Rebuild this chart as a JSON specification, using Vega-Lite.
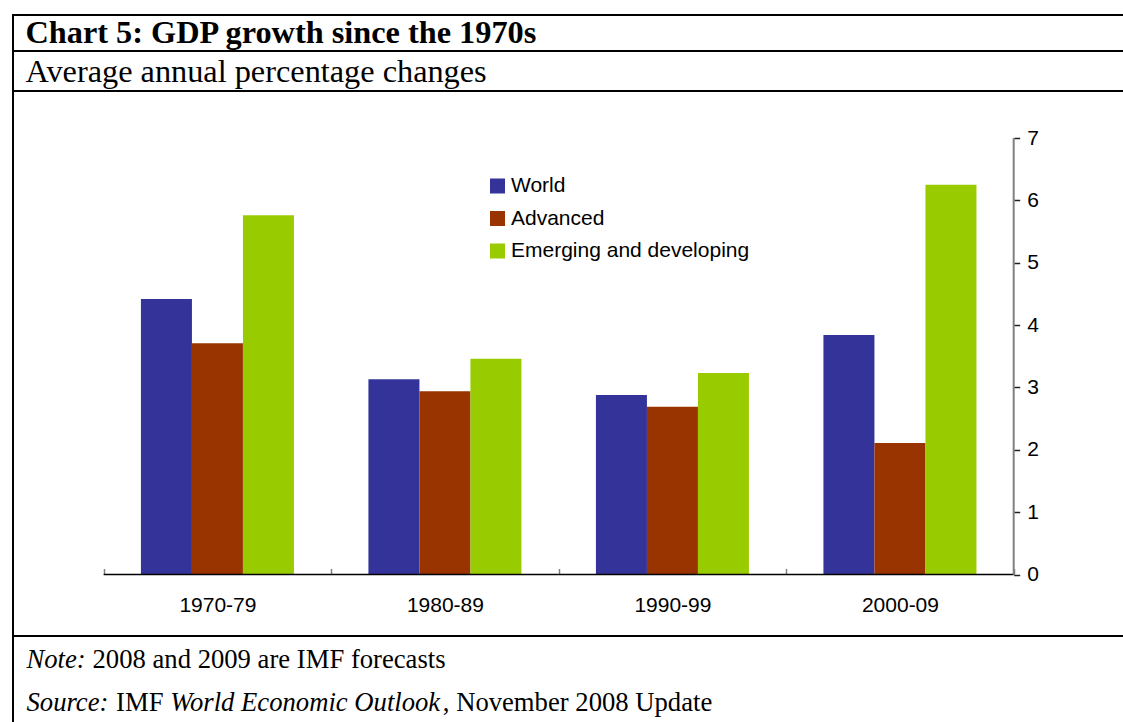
{
  "$schema": "https://vega.github.io/schema/vega-lite/v6.json",
  "padding": {"left": 12, "top": 14, "right": -30, "bottom": -15},
  "background": "white",
  "spacing": 0,
  "bounds": "flush",
  "config": {
    "view": {"stroke": "#000", "strokeWidth": 2},
    "concat": {"spacing": 0}
  },
  "datasets": {
    "gdp": [
      {"period": "1970-79", "series": "World", "value": 4.42},
      {"period": "1970-79", "series": "Advanced", "value": 3.71},
      {"period": "1970-79", "series": "Emerging and developing", "value": 5.76},
      {"period": "1980-89", "series": "World", "value": 3.13},
      {"period": "1980-89", "series": "Advanced", "value": 2.94},
      {"period": "1980-89", "series": "Emerging and developing", "value": 3.46},
      {"period": "1990-99", "series": "World", "value": 2.88},
      {"period": "1990-99", "series": "Advanced", "value": 2.69},
      {"period": "1990-99", "series": "Emerging and developing", "value": 3.23},
      {"period": "2000-09", "series": "World", "value": 3.84},
      {"period": "2000-09", "series": "Advanced", "value": 2.11},
      {"period": "2000-09", "series": "Emerging and developing", "value": 6.25}
    ],
    "periods": [
      {"period": "1970-79"}, {"period": "1980-89"}, {"period": "1990-99"}, {"period": "2000-09"}
    ],
    "notes": [
      {"line": "note", "seg": "a", "text": "Note:"},
      {"line": "note", "seg": "b", "text": "2008 and 2009 are IMF forecasts"},
      {"line": "source", "seg": "c", "text": "Source:"},
      {"line": "source", "seg": "d", "text": "IMF"},
      {"line": "source", "seg": "e", "text": "World Economic Outlook"},
      {"line": "source", "seg": "f", "text": ", November 2008 Update"}
    ]
  },
  "vconcat": [
    {
      "width": 1140,
      "height": 36,
      "data": {"values": [{"t": "Chart 5: GDP growth since the 1970s"}]},
      "mark": {"type": "text", "align": "left", "baseline": "middle", "font": "Liberation Serif", "fontWeight": "bold", "fontSize": 32.3, "color": "#000", "dx": 12.5, "dy": 0},
      "encoding": {
        "text": {"field": "t"},
        "x": {"datum": 0, "type": "quantitative", "scale": {"domain": [0, 1]}, "axis": null}
      }
    },
    {
      "width": 1140,
      "height": 40,
      "data": {"values": [{"t": "Average annual percentage changes"}]},
      "mark": {"type": "text", "align": "left", "baseline": "middle", "font": "Liberation Serif", "fontSize": 32.3, "color": "#000", "dx": 12.5, "dy": 1},
      "encoding": {
        "text": {"field": "t"},
        "x": {"datum": 0, "type": "quantitative", "scale": {"domain": [0, 1]}, "axis": null}
      }
    },
    {
      "width": 1140,
      "height": 545,
      "layer": [
        {
          "data": {"name": "gdp"},
          "mark": {"type": "bar"},
          "encoding": {
            "x": {
              "field": "period", "type": "nominal", "sort": null,
              "scale": {"paddingInner": 0, "paddingOuter": 0.50549, "align": 0.3943},
              "axis": {
                "orient": "bottom", "offset": -61.5, "domain": false, "title": null,
                "tickBand": "extent", "tickSize": -6, "tickColor": "#808080", "tickWidth": 1.5,
                "labelAngle": 0, "labelFont": "Liberation Sans", "labelFontSize": 21,
                "labelColor": "#000", "labelPadding": 25.5
              }
            },
            "xOffset": {
              "field": "series", "type": "nominal",
              "sort": ["World", "Advanced", "Emerging and developing"],
              "scale": {"paddingInner": 0, "paddingOuter": 0.73}
            },
            "y": {
              "field": "value", "type": "quantitative",
              "scale": {"domain": [-0.986, 7.754], "nice": false, "zero": false},
              "axis": {
                "orient": "right", "offset": -139.3, "domain": false, "grid": false, "title": null,
                "values": [0, 1, 2, 3, 4, 5, 6, 7], "format": "d", "tickSize": 6, "tickColor": "#222", "tickWidth": 1.5,
                "labelFont": "Liberation Sans", "labelFontSize": 21, "labelColor": "#000", "labelPadding": 7
              }
            },
            "y2": {"datum": 0},
            "color": {
              "field": "series", "type": "nominal",
              "sort": ["World", "Advanced", "Emerging and developing"],
              "scale": {"domain": ["World", "Advanced", "Emerging and developing"], "range": ["#333399", "#993300", "#99CC00"]},
              "legend": {
                "orient": "none", "legendX": 474, "legendY": 160.5, "title": null, "padding": 0,
                "symbolType": "square", "symbolSize": 225, "symbolStrokeWidth": 0,
                "labelFont": "Liberation Sans", "labelFontSize": 21, "labelColor": "#000",
                "labelOffset": 3, "labelLimit": 0, "rowPadding": 10.5
              }
            }
          }
        },
        {
          "data": {"name": "periods"},
          "mark": {"type": "bar", "filled": false, "stroke": "#000", "strokeWidth": 1.5},
          "encoding": {
            "x": {"field": "period", "type": "nominal", "sort": null},
            "y": {"datum": 0},
            "y2": {"datum": 0}
          }
        },
        {
          "data": {"values": [{"k": 1}]},
          "mark": {"type": "rule", "color": "#808080", "strokeWidth": 2},
          "encoding": {
            "x": {"datum": "2000-09", "bandPosition": 1},
            "y": {"datum": 0},
            "y2": {"datum": 7}
          }
        }
      ]
    },
    {
      "width": 1140,
      "height": 100,
      "data": {"name": "notes"},
      "encoding": {
        "text": {"field": "text"},
        "x": {"datum": 0, "type": "quantitative", "scale": {"domain": [0, 1]}, "axis": null},
        "y": {"field": "line", "type": "nominal", "scale": {"type": "point", "domain": ["note", "source"], "padding": 0.6628, "align": 0.42}, "axis": null}
      },
      "layer": [
        {"transform": [{"filter": "datum.seg === 'a'"}], "mark": {"type": "text", "align": "left", "baseline": "middle", "font": "Liberation Serif", "fontStyle": "italic", "fontSize": 26.67, "color": "#000", "dx": 13.5}},
        {"transform": [{"filter": "datum.seg === 'b'"}], "mark": {"type": "text", "align": "left", "baseline": "middle", "font": "Liberation Serif", "fontSize": 26.67, "color": "#000", "dx": 79.5}},
        {"transform": [{"filter": "datum.seg === 'c'"}], "mark": {"type": "text", "align": "left", "baseline": "middle", "font": "Liberation Serif", "fontStyle": "italic", "fontSize": 26.67, "color": "#000", "dx": 13.5}},
        {"transform": [{"filter": "datum.seg === 'd'"}], "mark": {"type": "text", "align": "left", "baseline": "middle", "font": "Liberation Serif", "fontSize": 26.67, "color": "#000", "dx": 103.1}},
        {"transform": [{"filter": "datum.seg === 'e'"}], "mark": {"type": "text", "align": "left", "baseline": "middle", "font": "Liberation Serif", "fontStyle": "italic", "fontSize": 26.67, "color": "#000", "dx": 157.2}},
        {"transform": [{"filter": "datum.seg === 'f'"}], "mark": {"type": "text", "align": "left", "baseline": "middle", "font": "Liberation Serif", "fontSize": 26.67, "color": "#000", "dx": 429.8}}
      ]
    }
  ]
}
